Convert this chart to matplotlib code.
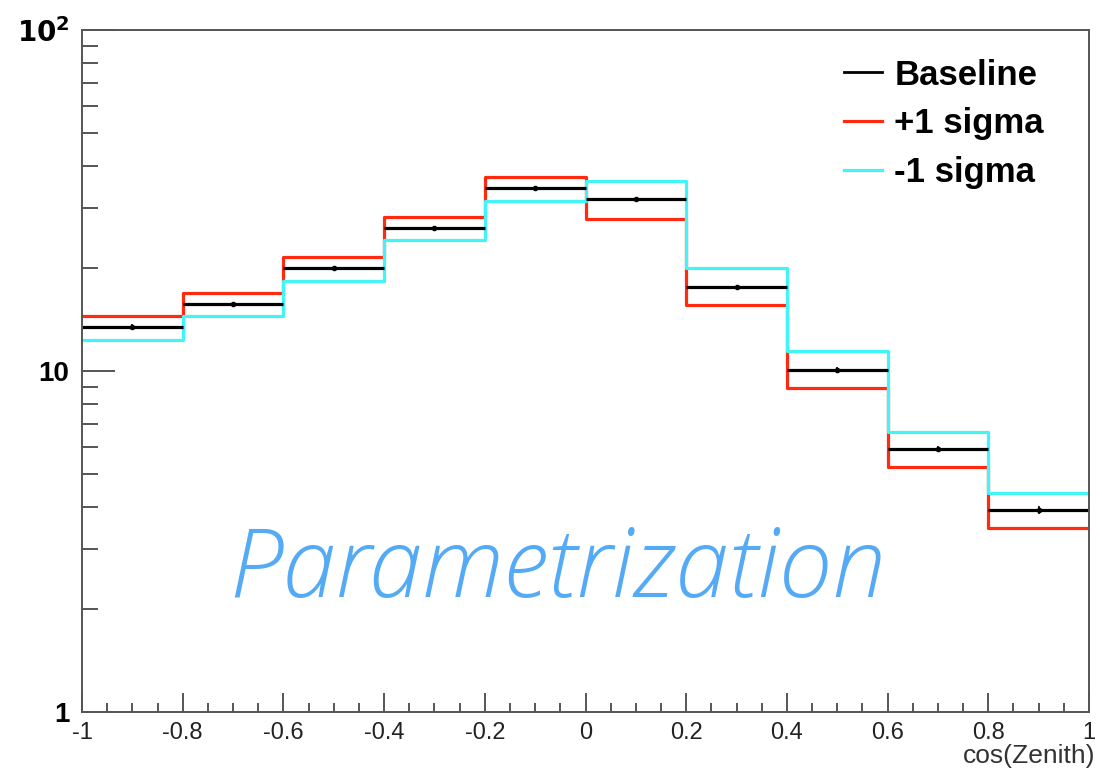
import numpy as np
import matplotlib.pyplot as plt
from matplotlib.ticker import FixedLocator, NullFormatter, FixedFormatter

# bin edges in cos(Zenith)
edges = [-1.0, -0.8, -0.6, -0.4, -0.2, 0.0, 0.2, 0.4, 0.6, 0.8, 1.0]

baseline = [13.5, 15.7, 20.0, 26.3, 34.4, 31.9, 17.6, 10.1, 5.90, 3.91]
plus_sigma = [14.5, 16.9, 21.6, 28.3, 37.1, 27.9, 15.6, 8.91, 5.23, 3.46]
minus_sigma = [12.3, 14.5, 18.4, 24.2, 31.5, 36.1, 20.0, 11.45, 6.62, 4.39]
base_err = [0.25, 0.28, 0.33, 0.4, 0.5, 0.48, 0.3, 0.2, 0.13, 0.1]

x_ticklabels = ['-1', '-0.8', '-0.6', '-0.4', '-0.2', '0', '0.2', '0.4', '0.6', '0.8', '1']

plt.rcParams['font.family'] = ['Liberation Sans', 'DejaVu Sans']

fig = plt.figure(figsize=(11.02, 7.73), dpi=100)
ax = fig.add_axes([82 / 1102, 1 - 712 / 773, (1089 - 82) / 1102, (712 - 30) / 773])

edges = np.array(edges)
centers = 0.5 * (edges[:-1] + edges[1:])

def step(vals):
    return np.append(vals, vals[-1])

ax.step(edges, step(plus_sigma), where='post', color='#ff2a10', lw=2.3, label='+1 sigma')
ax.step(edges, step(minus_sigma), where='post', color='#40f4f8', lw=2.3, label='-1 sigma')
ax.hlines(baseline, edges[:-1], edges[1:], color='black', lw=2.3)
ax.errorbar(centers, baseline, yerr=base_err, fmt='o', ms=3, color='black', lw=1.2)
ax.plot([], [], color='black', lw=2.0, label='Baseline')

ax.set_xlim(-1, 1)
ax.set_yscale('log')
ax.set_ylim(1, 100)

ax.xaxis.set_major_locator(FixedLocator(np.round(np.arange(-1, 1.01, 0.2), 2)))
ax.xaxis.set_minor_locator(FixedLocator(np.arange(-1, 1.001, 0.05)))
ax.set_xticklabels(x_ticklabels, fontsize=17, color='#222222')
ax.tick_params(axis='x', which='major', direction='in', length=13.5, width=1.4, color='#555555', pad=7)
ax.tick_params(axis='x', which='minor', direction='in', length=6.5, width=1.4, color='#555555')

ax.yaxis.set_major_locator(FixedLocator([1, 10, 100]))
ax.yaxis.set_major_formatter(FixedFormatter(['1', '10', r'$\mathbf{10^{2}}$']))
minor = [m * d for d in (1, 10) for m in range(2, 10)]
ax.yaxis.set_minor_locator(FixedLocator(minor))
ax.yaxis.set_minor_formatter(NullFormatter())
ax.tick_params(axis='y', which='major', direction='in', length=24, width=1.4, color='#555555', pad=9)
ax.tick_params(axis='y', which='minor', direction='in', length=11.5, width=1.4, color='#555555')
for lab in ax.get_yticklabels():
    lab.set_fontsize(20)
    lab.set_fontweight('bold')
ax.tick_params(top=False, right=False, which='both')

for sp in ax.spines.values():
    sp.set_color('#555555')
    sp.set_linewidth(1.4)

ax.text(1.006, -0.047, 'cos(Zenith)', transform=ax.transAxes, ha='right', va='top',
        fontsize=19, color='#333333')

handles, labels = ax.get_legend_handles_labels()
order = [labels.index('Baseline'), labels.index('+1 sigma'), labels.index('-1 sigma')]
leg = ax.legend([handles[i] for i in order], [labels[i] for i in order],
                loc='upper right', bbox_to_anchor=(0.986, 1.004), frameon=False,
                prop={'size': 25, 'weight': 'bold'}, handlelength=1.1, handletextpad=0.35,
                labelspacing=0.46)

ax.text(0.472, 0.205, 'Parametrization', transform=ax.transAxes, ha='center', va='center',
        fontsize=69, style='italic', fontweight='light', family=['Open Sans', 'DejaVu Sans'],
        color='#55aaf5')

fig.savefig('out.png', dpi=100)
